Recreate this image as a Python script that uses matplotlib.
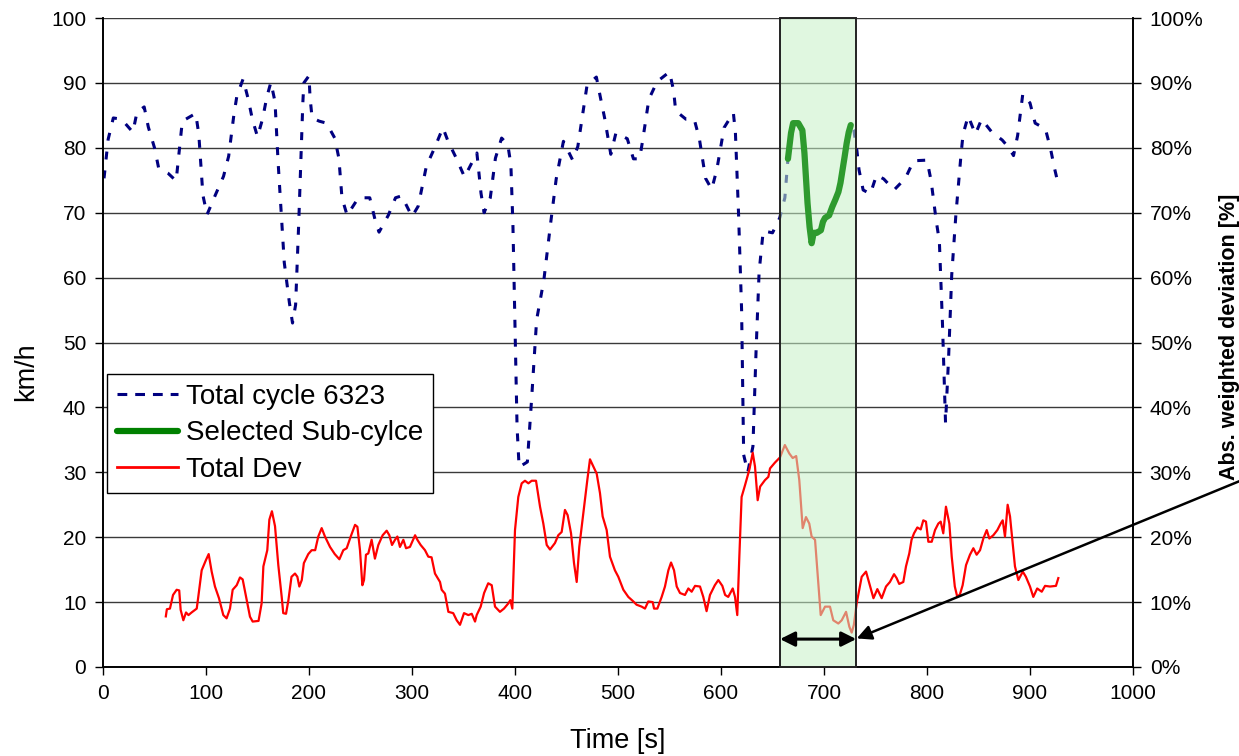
import matplotlib
matplotlib.use("Agg")
import matplotlib.pyplot as plt
import numpy as np
from matplotlib.patches import Rectangle
from matplotlib.lines import Line2D

plt.rcParams['font.family'] = ['Liberation Sans', 'DejaVu Sans']

# ---- data ----
speed_t = [1, 3, 5, 10, 18, 29, 33, 40, 44, 50, 54, 63, 71, 73, 77, 90, 93, 97, 101, 109,
           117, 122, 127, 130, 136, 141, 145, 150, 155, 159, 163, 167, 170, 176, 181, 184, 187, 190, 194, 195,
           200, 201, 203, 210, 217, 225, 229, 232, 237, 248, 259, 264, 268, 277, 284, 290, 300, 306, 310, 314,
           322, 330, 335, 343, 351, 363, 365, 367, 370, 376, 381, 387, 393, 396, 398, 400, 402, 404, 412, 416,
           421, 428, 435, 440, 447, 456, 461, 464, 470, 479, 483, 487, 493, 498, 509, 515, 521, 524, 530, 538,
           550, 554, 556, 566, 574, 579, 585, 591, 596, 603, 612, 614, 617, 620, 622, 626, 631, 634, 637, 641,
           650, 657, 662, 665, 668, 670, 675, 679, 681, 684, 686, 688, 690, 693, 697, 699, 701, 705, 708, 711,
           714, 716, 718, 720, 722, 724, 726, 729, 732, 734, 738, 745, 751, 758, 768, 779, 787, 800, 804, 809,
           812, 815, 818, 821, 824, 828, 833, 835, 840, 847, 853, 863, 873, 879, 884, 888, 893, 900, 905, 915,
           920, 924, 928]
speed_v = [75.3, 78.3, 81.3, 84.6, 84.4, 82.4, 85.5, 86.3, 83.2, 80.0, 76.9, 76.1, 74.9, 78.0, 84.1, 85.3, 82.1, 72.7, 69.7, 72.7,
           75.6, 78.7, 85.0, 88.0, 90.6, 87.5, 84.4, 81.7, 84.5, 87.8, 90.1, 87.1, 77.8, 62.3, 56.1, 53.0, 55.8, 68.3, 86.9, 90.0,
           91.1, 87.8, 84.6, 84.1, 83.8, 81.5, 78.4, 72.3, 69.6, 72.3, 72.3, 69.0, 67.0, 69.6, 72.3, 72.6, 69.4, 71.0, 74.1, 77.2,
           80.0, 83.1, 81.0, 78.4, 75.5, 79.2, 76.1, 73.0, 70.0, 72.3, 78.4, 81.5, 80.5, 77.4, 68.0, 52.6, 37.0, 30.8, 31.6, 41.0,
           53.5, 59.6, 68.9, 75.2, 81.0, 78.1, 80.2, 83.4, 89.7, 90.9, 87.7, 84.6, 79.0, 82.3, 81.4, 78.3, 78.3, 81.2, 87.5, 90.2,
           91.7, 88.8, 85.7, 84.4, 84.4, 81.4, 75.3, 73.6, 76.7, 83.1, 85.4, 82.3, 70.0, 55.0, 32.7, 30.0, 34.0, 48.5, 60.9, 67.2,
           66.9, 69.2, 72.3, 78.3, 82.3, 83.8, 83.8, 82.7, 79.2, 71.5, 67.8, 65.3, 66.9, 66.9, 67.3, 68.6, 69.2, 69.6, 70.9, 72.0,
           73.2, 74.6, 76.6, 78.6, 80.7, 82.4, 83.5, 82.7, 79.5, 76.6, 73.5, 72.9, 75.8, 75.2, 73.5, 75.3, 78.0, 78.1, 74.9, 68.7,
           65.6, 53.0, 37.6, 47.8, 60.4, 69.6, 78.9, 82.1, 84.9, 82.1, 84.4, 82.4, 81.2, 80.1, 78.8, 81.9, 88.3, 86.9, 83.8, 82.9,
           79.8, 76.7, 74.0]

sub_start, sub_end = 665, 726

dev_t = [61, 62, 65, 68, 71.5, 74, 75.4, 78, 80.6, 83, 86, 91, 92.5, 95.8, 100, 102.6, 105.5, 108.7, 112.6, 116.8,
         120, 123.3, 125.9, 129.8, 133, 135.6, 139.5, 142.7, 145.3, 151, 154, 155.7, 159.5, 161.5, 164, 167, 170.2, 173.5, 175, 177.7,
         180, 183, 186.4, 188.7, 190.6, 193, 195, 199.3, 202.6, 206, 209, 212.3, 215.5, 220.4, 225, 229.5, 233.3, 236.6, 240.5, 244.7,
         247, 249.5, 251.8, 253.4, 255.3, 257.6, 260.8, 264, 267.3, 271.5, 275.4, 278, 280.6, 283.5, 285.8, 288.3, 291.6, 294.2, 298, 303,
         305.2, 308.4, 312.6, 315.8, 319, 322.3, 327.2, 328.8, 332, 335.3, 340, 343.4, 346.6, 350.5, 354.7, 358, 361.2, 362.8, 366.7, 370,
         374, 377.4, 380.6, 385.4, 389.3, 393.5, 395.5, 397.4, 400, 403.2, 406.5, 409.7, 413, 416.2, 420.4, 424.3, 427.5, 430.8, 434, 438.8,
         442, 445.3, 448.5, 451.1, 454.4, 457.3, 459.9, 462.4, 466.3, 470.2, 472.8, 476, 479.3, 482.5, 485.1, 489, 492.2, 497, 500.3, 505.2,
         510, 514.9, 518, 523, 526.2, 529.4, 533.7, 535, 538.2, 542.4, 545.6, 548.9, 551.5, 554.4, 557, 560.2, 565, 568.3, 571.5, 574.8,
         579.6, 582.8, 586, 589.3, 594, 597.4, 601.3, 604, 607, 611.4, 613.6, 615.8, 617.8, 620, 623.3, 627.5, 630.8, 633, 635.6, 638,
         642.7, 646, 647.6, 652.4, 657.3, 662, 666.3, 669.6, 673, 676, 679.3, 682.5, 685.7, 688, 691.3, 693.5, 696.8, 701, 705.8, 709,
         713.9, 717.2, 721.4, 724.6, 726.9, 729, 731.7, 736.6, 740.8, 744, 748, 751.8, 756, 760.2, 764, 768, 770.5, 773, 777, 779.6,
         782.8, 785, 787.4, 790.6, 793.9, 796.4, 799, 801.3, 804.6, 807.8, 811, 813.3, 815.8, 818.4, 821.7, 824, 827, 829.4, 832, 834.6,
         837.9, 841.7, 845, 848.2, 851.5, 854.7, 858, 860.5, 864.4, 868.3, 871.5, 873.5, 875.7, 878.3, 880.6, 883.8, 885.4, 888.7, 893, 896,
         900, 903.2, 907, 911.4, 914.6, 919.4, 925.2, 927.5]
dev_pct = [7.8, 8.9, 9.0, 11.1, 11.9, 11.8, 8.8, 7.2, 8.4, 8.0, 8.4, 9.0, 10.8, 14.9, 16.5, 17.4, 14.7, 12.4, 10.6, 8.0,
           7.5, 9.0, 11.9, 12.6, 13.8, 13.5, 10.3, 7.75, 7.0, 7.1, 9.8, 15.5, 18.0, 22.7, 24.0, 21.7, 15.7, 10.8, 8.3, 8.2,
           10.3, 13.9, 14.4, 13.9, 12.4, 13.4, 16.0, 17.4, 18.0, 18.0, 20.1, 21.4, 20.1, 18.5, 17.4, 16.6, 18.0, 18.3, 20.1, 21.9,
           21.6, 18.0, 12.6, 13.4, 17.3, 17.5, 19.6, 16.7, 18.8, 20.3, 21.0, 20.3, 18.8, 19.6, 20.1, 18.5, 19.6, 18.3, 18.5, 20.3,
           19.6, 18.8, 18.0, 17.0, 16.9, 14.4, 13.1, 11.9, 11.3, 8.5, 8.3, 7.2, 6.5, 8.3, 8.0, 8.2, 7.0, 8.0, 9.3, 11.4,
           12.9, 12.6, 9.3, 8.5, 9.0, 9.8, 10.3, 9.0, 21.1, 26.2, 28.3, 28.7, 28.3, 28.7, 28.7, 24.7, 22.1, 18.8, 18.1, 19.1,
           20.3, 20.8, 24.2, 23.4, 20.6, 16.0, 13.1, 18.5, 23.7, 28.8, 32.0, 30.9, 29.8, 26.8, 23.2, 21.1, 17.0, 14.9, 13.9, 11.9,
           10.8, 10.1, 9.6, 9.3, 9.0, 10.1, 10.0, 9.0, 9.0, 10.8, 12.4, 14.9, 16.1, 14.9, 12.4, 11.4, 11.1, 12.1, 11.6, 12.5,
           12.4, 10.8, 8.6, 11.1, 12.6, 13.4, 12.5, 11.1, 10.8, 12.1, 10.8, 8.0, 17.0, 26.2, 28.0, 30.4, 33.0, 30.9, 25.7, 27.8,
           28.8, 29.3, 30.6, 31.5, 32.3, 34.2, 32.9, 32.2, 32.5, 28.8, 21.4, 23.1, 22.1, 20.1, 19.6, 14.9, 8.0, 9.3, 9.3, 7.2,
           6.7, 7.2, 8.5, 6.2, 5.3, 6.5, 9.8, 13.9, 14.7, 12.9, 10.6, 12.0, 10.6, 12.4, 13.1, 14.3, 13.7, 12.8, 13.1, 15.5,
           17.5, 19.6, 20.6, 21.5, 21.2, 22.6, 22.4, 19.3, 19.3, 21.1, 22.1, 22.4, 20.6, 24.7, 22.1, 17.0, 12.4, 10.8, 11.2, 12.6,
           15.7, 17.3, 18.3, 17.3, 18.0, 19.8, 21.1, 19.8, 20.3, 21.1, 22.1, 22.6, 20.1, 25.0, 23.2, 18.0, 15.5, 13.4, 14.7, 13.9,
           12.4, 10.8, 12.1, 11.6, 12.5, 12.4, 12.5, 13.7]

window_start, window_end = 657.3, 731.3
x_ticks = list(range(0, 1001, 100))
y_ticks = list(range(0, 101, 10))
legend_labels = ["Total cycle 6323", "Selected Sub-cylce", "Total Dev"]

# ---- figure ----
W, H = 1239, 756
fig = plt.figure(figsize=(W / 100, H / 100), dpi=100)
ax = fig.add_axes([103 / W, 1 - 667 / H, 1030 / W, 649 / H])
ax2 = ax.twinx()

ax.set_xlim(0, 1000)
ax.set_ylim(0, 100)
ax2.set_ylim(0, 100)
ax.set_xticks(x_ticks)
ax.set_yticks(y_ticks)
ax2.set_yticks(y_ticks)
ax2.set_yticklabels([f"{v}%" for v in y_ticks])

for a in (ax, ax2):
    a.tick_params(axis='both', direction='out', length=6, width=1, labelsize=15, colors='black', pad=6)
    for s in a.spines.values():
        s.set_linewidth(1.2)
        s.set_color('black')
ax.spines['top'].set_visible(False)
ax2.spines['top'].set_visible(False)
ax.grid(axis='y', color='#3a3a3a', linewidth=1.0)
ax.set_axisbelow(True)

# blue dashed total cycle
st = np.array(speed_t, dtype=float)
sv = np.array(speed_v, dtype=float)
ax.plot(st, sv, color='#000080', linewidth=2.2, linestyle=(0, (2.6, 3.6)), zorder=2)

# red deviation on secondary axis
ax2.plot(dev_t, dev_pct, color='#ff0000', linewidth=1.6, zorder=2)

# selected window
ax2.add_patch(Rectangle((window_start, 0), window_end - window_start, 100,
                        facecolor=(0.78, 0.95, 0.78, 0.55), edgecolor='none', zorder=3))
ax2.add_patch(Rectangle((window_start, 0), window_end - window_start, 100,
                        facecolor='none', edgecolor='#222222', linewidth=1.4, zorder=3.5, clip_on=False))

# green sub-cycle
m = (st >= sub_start) & (st <= sub_end)
ax2.plot(st[m], sv[m], color='#2e9a2e', linewidth=4.5, solid_capstyle='round', zorder=4)

# arrows
ax2.annotate('', xy=(window_end, 4.3), xytext=(window_start, 4.3),
             arrowprops=dict(arrowstyle='<|-|>', color='black', lw=2.2, mutation_scale=22,
                             shrinkA=0, shrinkB=0), zorder=5)
ax2.annotate('', xy=(window_end + 0.5, 4.4), xytext=(1112, 29.2), annotation_clip=False,
             arrowprops=dict(arrowstyle='-|>', color='black', lw=1.8, mutation_scale=22,
                             shrinkA=0, shrinkB=0), zorder=5)

# labels
ax.set_xlabel("Time [s]", fontsize=19.5)
ax.xaxis.set_label_coords(0.5, -0.094)
ax.set_ylabel("km/h", fontsize=19.5)
ax.yaxis.set_label_coords(-0.062, 0.455)
fig.text(1229 / W, 1 - 337 / H, "Abs. weighted deviation [%]", rotation=90, fontsize=15.5,
         fontweight='bold', ha='center', va='center')

# legend
handles = [Line2D([], [], color='#000080', linewidth=2.2, linestyle=(0, (3.2, 2.6))),
           Line2D([], [], color='#008000', linewidth=4.5, solid_capstyle='round'),
           Line2D([], [], color='#ff0000', linewidth=2.0)]
leg = ax2.legend(handles, legend_labels, loc='upper left', bbox_to_anchor=(0.004, 0.4515),
                 borderaxespad=0, fontsize=20, frameon=True, fancybox=False, framealpha=1,
                 edgecolor='black', handlelength=2.2, handletextpad=0.3, labelspacing=0.38,
                 borderpad=0.35)
leg.get_frame().set_linewidth(1.0)
leg.set_zorder(10)

fig.savefig("out.png", dpi=100, facecolor='white')
